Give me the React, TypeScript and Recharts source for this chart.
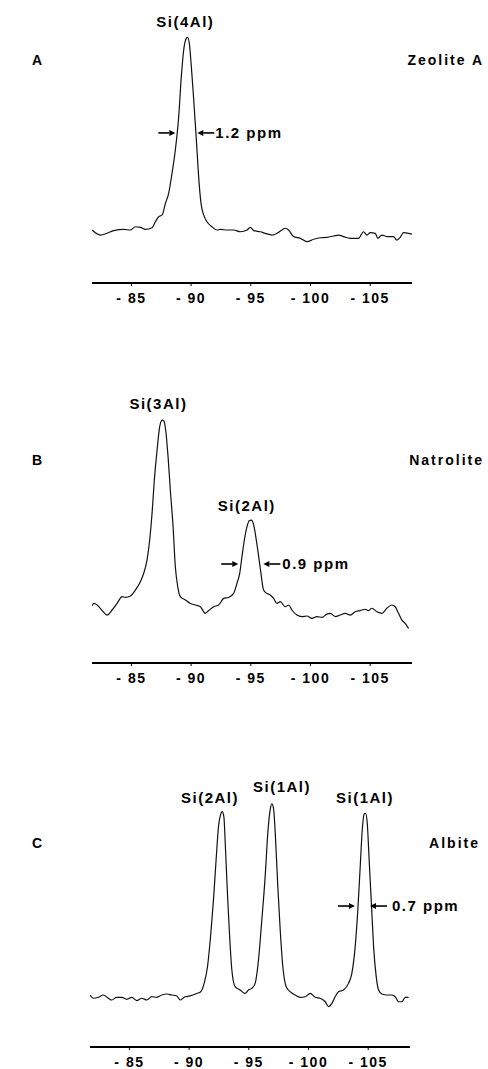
import React from 'react';
import { LineChart, Line, XAxis, YAxis, ReferenceDot } from 'recharts';

const FONT = '"Liberation Sans", Arial, Helvetica, sans-serif';

// chemical shift (ppm) tick values
const tickValues = [-85, -90, -95, -100, -105];

// Panel A: Zeolite A
const ppmA = [
  -81.71, -82.41, -82.96, -83.52, -84.36, -84.92, -85.33, -85.75, -86.17, -86.73,
  -87.01, -87.29, -87.57, -87.85, -88.12, -88.4, -88.68, -88.96, -89.18, -89.38,
  -89.6, -89.71, -89.85, -90.02, -90.22, -90.44, -90.63, -90.83, -91.05, -91.33,
  -91.75, -92.17, -92.45, -93.01, -93.56, -94.12, -94.68, -94.96, -95.24, -95.8,
  -96.21, -96.77, -97.19, -97.61, -97.89, -98.17, -98.58, -99.14, -99.7, -100.26,
  -100.82, -101.37, -101.93, -102.35, -102.77, -103.33, -104.02, -104.44, -104.72, -105.0,
  -105.42, -105.64, -105.98, -106.39, -106.95, -107.23, -107.51, -107.79, -108.21, -108.49,
];
const intensityA = [
  -0.6, -3.2, -2.3, -0.9, -0.3, -0.6, 1.1, 0.8, -0.3, 0.6,
  3.7, 6.3, 7.2, 13.2, 18.4, 28.7, 40.8, 58.0, 78.7, 92.5,
  98.5, 99.0, 95.9, 83.9, 66.6, 46.0, 27.0, 13.2, 7.2, 3.7,
  1.1, -0.6, -0.3, -0.6, -0.6, -1.5, -0.6, 0.8, -0.9, -1.5,
  -2.3, -3.2, -2.3, -0.6, 0.3, -0.6, -4.0, -4.9, -6.6, -5.4,
  -4.6, -4.4, -3.7, -3.2, -4.0, -4.9, -4.9, -1.5, -3.2, -2.0,
  -2.3, -4.9, -3.2, -4.0, -4.0, -5.8, -4.4, -2.0, -2.3, -2.7,
];

// Panel B: Natrolite
const ppmB = [
  -81.71, -81.85, -82.13, -82.55, -82.96, -83.38, -83.8, -84.22, -84.5, -84.92,
  -85.33, -85.75, -86.03, -86.31, -86.53, -86.73, -86.92, -87.15, -87.37, -87.57,
  -87.71, -87.87, -88.07, -88.26, -88.49, -88.68, -88.88, -89.1, -89.52, -89.94,
  -90.36, -90.77, -91.19, -91.47, -91.89, -92.31, -92.73, -93.14, -93.56, -93.84,
  -94.07, -94.26, -94.46, -94.68, -94.87, -95.04, -95.24, -95.46, -95.66, -95.85,
  -96.07, -96.35, -96.63, -96.91, -97.19, -97.47, -97.89, -98.17, -98.44, -98.86,
  -99.28, -99.7, -100.12, -100.54, -100.96, -101.37, -101.65, -102.07, -102.49, -102.91,
  -103.33, -103.75, -104.16, -104.58, -104.86, -105.14, -105.56, -105.98, -106.39, -106.81,
  -107.09, -107.37, -107.65, -107.93, -108.21,
];
const intensityB = [
  1.6, 2.8, 2.0, -0.9, -3.2, -0.6, 2.8, 6.3, 5.9, 6.6,
  9.7, 14.0, 18.4, 25.3, 35.6, 49.4, 66.6, 82.1, 94.2, 97.6,
  97.3, 92.5, 78.7, 61.5, 42.5, 21.8, 11.5, 6.3, 4.6, 2.8,
  2.0, 1.1, -2.3, -0.9, 1.1, 2.0, 5.4, 5.9, 8.0, 13.2,
  18.4, 27.0, 35.6, 42.5, 45.6, 45.9, 43.4, 35.6, 27.0, 18.4,
  9.7, 8.0, 7.2, 5.4, 2.8, 3.7, 1.1, 2.0, -0.6, -3.2,
  -4.0, -3.7, -4.9, -4.0, -4.4, -2.7, -2.3, -4.0, -3.2, -2.3,
  -3.2, -1.5, -0.9, -0.2, -0.9, 0.3, -1.5, -2.3, 0.3, 2.0,
  1.1, -2.3, -5.8, -7.5, -10.1,
];

// Panel C: Albite
const ppmC = [
  -81.7, -81.98, -82.4, -82.82, -83.24, -83.52, -83.94, -84.36, -84.78, -85.2,
  -85.61, -86.03, -86.45, -86.87, -87.29, -87.71, -88.13, -88.55, -88.97, -89.25,
  -89.66, -90.08, -90.64, -90.98, -91.26, -91.54, -91.82, -92.04, -92.26, -92.46,
  -92.63, -92.77, -92.91, -93.04, -93.21, -93.38, -93.58, -93.85, -94.27, -94.69,
  -94.97, -95.25, -95.53, -95.81, -96.09, -96.37, -96.59, -96.79, -96.93, -97.07,
  -97.23, -97.43, -97.63, -97.85, -98.13, -98.46, -98.88, -99.3, -99.72, -100.14,
  -100.56, -100.98, -101.4, -101.68, -101.96, -102.23, -102.51, -102.93, -103.35, -103.63,
  -103.91, -104.13, -104.33, -104.5, -104.66, -104.78, -104.92, -105.08, -105.28, -105.45,
  -105.67, -105.87, -106.15, -106.56, -106.98, -107.26, -107.54, -107.82, -108.1, -108.38,
];
const intensityC = [
  -1.1, -2.8, -2.3, -1.1, -2.8, -3.7, -2.3, -2.3, -3.4, -2.3,
  -4.0, -2.8, -3.7, -2.0, -2.3, -1.1, -0.6, -1.1, -1.6, -3.7,
  -2.0, -1.6, -0.3, 0.6, 4.9, 13.5, 30.8, 48.0, 68.7, 85.9,
  92.0, 93.7, 91.1, 75.6, 51.5, 30.8, 11.8, 3.2, 1.5, -0.3,
  1.5, 2.3, 4.9, 17.0, 37.7, 60.1, 82.5, 94.6, 97.7, 95.4,
  80.8, 54.9, 32.5, 13.5, 3.2, 0.6, -1.1, -2.3, -2.0, -0.3,
  -2.3, -2.8, -4.6, -7.1, -5.4, -2.0, 0.6, 1.5, 4.9, 10.1,
  23.9, 42.8, 65.3, 84.2, 92.5, 92.8, 87.7, 68.7, 44.6, 23.9,
  8.4, 1.5, -0.6, -1.1, -1.1, -2.0, -4.6, -4.6, -2.3, -2.3,
];

const build = (xs: number[], ys: number[]) => xs.map((p, i) => ({ ppm: p, v: ys[i] }));

const dataA = build(ppmA, intensityA);
const dataB = build(ppmB, intensityB);
const dataC = build(ppmC, intensityC);

const fmt = (v: number) => '- ' + Math.abs(v);

const Tick = (props: any) => {
  const { x, y, payload } = props;
  return (
    <text x={x} y={y} dy={15} textAnchor="middle" fill="#000"
      style={{ fontFamily: FONT, fontSize: 14, fontWeight: 700, letterSpacing: '1.5px' }}>
      {fmt(payload.value)}
    </text>
  );
};

const textStyle: React.CSSProperties = { fontFamily: FONT, fontSize: 15, fontWeight: 700, letterSpacing: '1.5px' };

const labelShape = (text: string, anchor: 'middle' | 'start' = 'middle', dy = 0) => (p: any) => (
  <text x={p.cx} y={p.cy} dy={dy} textAnchor={anchor} fill="#000" style={textStyle}>{text}</text>
);

const arrowShape = (dir: number) => (p: any) => {
  const { cx, cy } = p;
  const len = 17;
  const head = 6;
  return (
    <g>
      <line x1={cx - dir * len} y1={cy} x2={cx - dir * head} y2={cy} stroke="#000" strokeWidth={1.6} />
      <polygon points={`${cx},${cy} ${cx - dir * head},${cy - 3} ${cx - dir * head},${cy + 3}`} fill="#000" />
    </g>
  );
};

type Ann = { x: number; y: number; shape: (p: any) => React.ReactElement };

const Panel = ({ data, height, left, right, anns }: { data: any[]; height: number; left: number; right: number; anns: Ann[] }) => (
  <LineChart width={488} height={height} data={data}
    margin={{ top: 20, right, bottom: height - 283 - 22, left }}>
    <XAxis dataKey="ppm" type="number" domain={[-108.5, -81.7]} reversed allowDataOverflow
      ticks={tickValues} tick={<Tick />} height={22}
      axisLine={{ stroke: '#000', strokeWidth: 2 }} tickLine={{ stroke: '#000' }} tickSize={3} tickMargin={2} />
    <YAxis hide domain={[-28, 108]} allowDataOverflow />
    <Line type="monotone" dataKey="v" stroke="#111" strokeWidth={1.2} dot={false} isAnimationActive={false} />
    {anns.map((a, i) => (
      <ReferenceDot key={i} x={a.x} y={a.y} r={0} ifOverflow="visible" shape={a.shape} />
    ))}
  </LineChart>
);

const Side = ({ top, left, right, text }: { top: number; left?: number; right?: number; text: string }) => (
  <div style={{ position: 'absolute', top, left, right, fontFamily: FONT, fontSize: 14, fontWeight: 700, letterSpacing: '2px', color: '#000', lineHeight: '16px', whiteSpace: 'nowrap' }}>
    {text}
  </div>
);

export default function App() {
  return (
    <div style={{ position: 'absolute', left: 0, top: 0, width: 488, height: 1069, background: '#fff', overflow: 'hidden' }}>
      <div style={{ position: 'absolute', left: 0, top: 0 }}>
        <Panel data={dataA} height={380} left={92} right={76} anns={[
          { x: -89.52, y: 104.4, shape: labelShape('Si(4Al)') },
          { x: -88.68, y: 49.6, shape: arrowShape(1) },
          { x: -90.52, y: 49.6, shape: arrowShape(-1) },
          { x: -92.03, y: 49.6, shape: labelShape('1.2  ppm', 'start', 5) },
        ]} />
      </div>
      <div style={{ position: 'absolute', left: 0, top: 380 }}>
        <Panel data={dataB} height={384} left={92} right={76} anns={[
          { x: -87.26, y: 103.3, shape: labelShape('Si(3Al)') },
          { x: -94.67, y: 50.6, shape: labelShape('Si(2Al)') },
          { x: -93.95, y: 23.2, shape: arrowShape(1) },
          { x: -96.05, y: 23.2, shape: arrowShape(-1) },
          { x: -97.64, y: 23.2, shape: labelShape('0.9  ppm', 'start', 5) },
        ]} />
      </div>
      <div style={{ position: 'absolute', left: 0, top: 764 }}>
        <Panel data={dataC} height={305} left={90} right={78} anns={[
          { x: -91.75, y: 98.2, shape: labelShape('Si(2Al)') },
          { x: -97.78, y: 103.9, shape: labelShape('Si(1Al)') },
          { x: -104.73, y: 98.2, shape: labelShape('Si(1Al)') },
          { x: -103.89, y: 44.9, shape: arrowShape(1) },
          { x: -105.15, y: 44.9, shape: arrowShape(-1) },
          { x: -106.99, y: 44.9, shape: labelShape('0.7 ppm', 'start', 5) },
        ]} />
      </div>
      <Side top={52} left={32} text="A" />
      <Side top={52} right={4} text="Zeolite A" />
      <Side top={452} left={32} text="B" />
      <Side top={452} right={4} text="Natrolite" />
      <Side top={835} left={32} text="C" />
      <Side top={835} right={8} text="Albite" />
    </div>
  );
}
